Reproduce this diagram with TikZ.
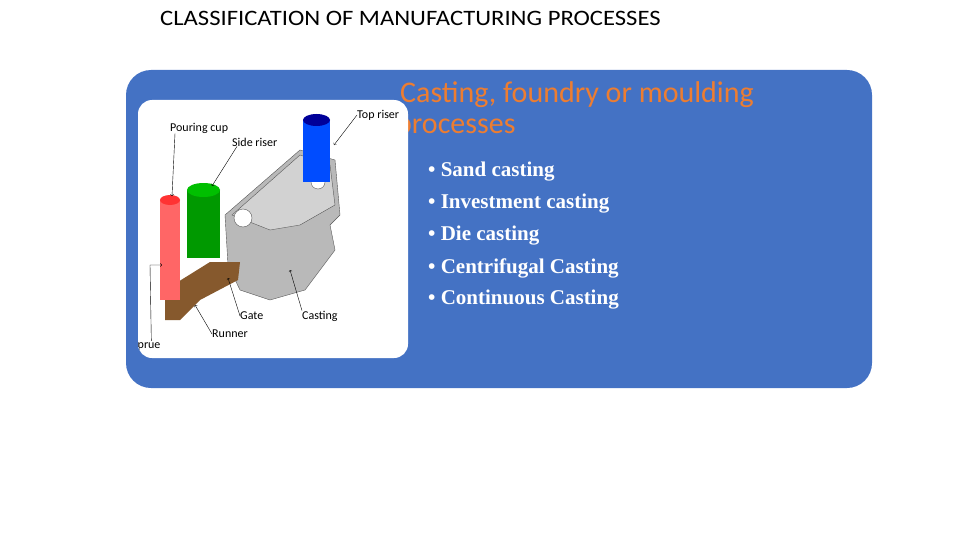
\documentclass[tikz,border=0pt]{standalone}
\usepackage{fontspec}
\setmainfont{Carlito}
\newfontfamily\serifb{Liberation Serif}
\definecolor{bluebg}{HTML}{4472C4}
\definecolor{orangeT}{HTML}{ED7D31}
\tikzset{lbl/.style={font=\fontsize{12}{12}\selectfont,inner sep=0pt,anchor=west},
bul/.style={font=\serifb\bfseries\fontsize{21}{21}\selectfont,text=white,anchor=west,inner sep=0pt},
ptr/.style={draw=black,thin}}
\begin{document}
\begin{tikzpicture}[x=1pt,y=-1pt]
\useasboundingbox (0,0) rectangle (960,540);
\node[font=\fontsize{22}{22}\selectfont,anchor=west,inner sep=0pt,xscale=1.12] (title) at (160,18) {CLASSIFICATION OF MANUFACTURING PROCESSES};
\node[fill=bluebg,rounded corners=25pt,minimum width=746pt,minimum height=318pt,inner sep=0pt] (panel) at (499,229) {};
\node[text=orangeT,font=\fontsize{30}{34}\selectfont,align=left,anchor=west,inner sep=0pt] (head1) at (400,95) {Casting, foundry or moulding};
\node[text=orangeT,font=\fontsize{30}{34}\selectfont,anchor=west,inner sep=0pt] (head2) at (396,129) {processes};
\node[fill=white,rounded corners=14pt,minimum width=270pt,minimum height=258pt,inner sep=0pt] (img) at (273,229) {};
\begin{scope}
\clip[rounded corners=14pt] (138,100) rectangle (408,358);
\fill[gray!55,draw=gray!70!black] (225,215) -- (300,150) -- (335,160) -- (340,215) -- (330,225) -- (335,250) -- (305,290) -- (270,300) -- (240,290) -- (228,265) -- cycle;
\fill[gray!35,draw=gray!70!black] (232,215) -- (300,155) -- (330,165) -- (335,205) -- (300,225) -- (270,230) -- cycle;
\fill[white,draw=gray!70!black] (243,218) circle (9);
\fill[white,draw=gray!70!black] (318,182) circle (7);
\fill[brown!70!black] (165,290) -- (210,262) -- (240,262) -- (238,280) -- (200,300) -- (180,320) -- (165,320) -- cycle;
\fill[red!60] (160,200) rectangle (180,300);
\fill[red!80] (170,200) ellipse (10 and 5);
\fill[green!60!black] (187,190) rectangle (220,258);
\fill[green!75!black] (203.5,190) ellipse (16.5 and 7);
\fill[blue!70!cyan] (303,120) rectangle (330,182);
\fill[blue!60!black] (316.5,120) ellipse (13.5 and 6);
\node[lbl] (pc) at (170,128) {Pouring cup};
\node[lbl] (sr) at (232,142) {Side riser};
\node[lbl] (tr) at (357,115) {Top riser};
\node[lbl] (gt) at (240,316) {Gate};
\node[lbl] (cs) at (302,316) {Casting};
\node[lbl] (rn) at (212,334) {Runner};
\node[lbl] (sp) at (132,346) {Sprue};
\draw[ptr,->] (pc.south west) ++(5,0) -- (172,196);
\draw[ptr,->] (sr.south west) ++(5,0) -- (212,186);
\draw[ptr,->] (tr.west) -- (334,145);
\draw[ptr,->] (gt.west) -- (228,278);
\draw[ptr,->] (cs.north west) -- (290,270);
\draw[ptr,->] (rn.west) -- (195,305);
\draw[ptr,->] (sp.north) ++(5,0) -- (150,265) -- (162,265);
\end{scope}
\node[bul] (b1) at (428,172) {• Sand casting};
\node[bul] (b2) at (428,204) {• Investment casting};
\node[bul] (b3) at (428,236) {• Die casting};
\node[bul] (b4) at (428,268) {• Centrifugal Casting};
\node[bul] (b5) at (428,300) {• Continuous Casting};
\end{tikzpicture}
\end{document}
